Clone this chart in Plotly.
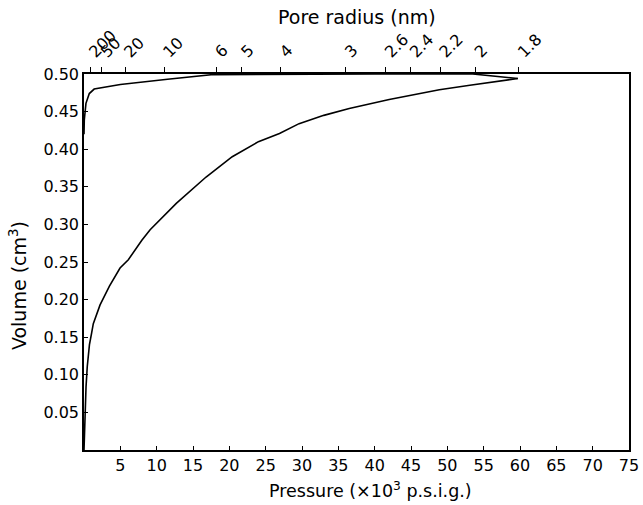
import plotly.graph_objects as go

# Intrusion branch (pressure in 10^3 psig, volume in cm^3)
intr_p = [0.0, 0.05, 0.1, 0.28, 0.45, 0.75, 1.06, 1.28, 2.21, 3.5, 4.96, 6.1, 7.96, 9.1,
          12.7, 16.8, 20.4, 24.0, 26.9, 29.6, 33.0, 36.5, 42.0, 46.2, 48.9, 53.1, 57.0, 59.7]
intr_v = [0.0, 0.02, 0.044, 0.084, 0.111, 0.14, 0.156, 0.168, 0.193, 0.218, 0.242, 0.253, 0.279, 0.293,
          0.328, 0.363, 0.39, 0.41, 0.421, 0.434, 0.445, 0.454, 0.466, 0.474, 0.479, 0.485, 0.490, 0.494]
# Extrusion branch
extr_p = [59.7, 53.5, 40.0, 25.0, 17.5, 11.5, 5.0, 1.4, 0.73, 0.27, 0.04, 0.0]
extr_v = [0.494, 0.500, 0.500, 0.500, 0.499, 0.493, 0.486, 0.480, 0.474, 0.461, 0.439, 0.42]

x_ticks = [5, 10, 15, 20, 25, 30, 35, 40, 45, 50, 55, 60, 65, 70, 75]
y_ticks = [0.05, 0.10, 0.15, 0.20, 0.25, 0.30, 0.35, 0.40, 0.45, 0.50]
pore_radii = [200, 50, 20, 10, 6, 5, 4, 3, 2.6, 2.4, 2.2, 2, 1.8]
pore_labels = ["200", "50", "20", "10", "6", "5", "4", "3", "2.6", "2.4", "2.2", "2", "1.8"]
washburn_k = 107.2   # pressure (10^3 psig) x radius (nm)
washburn_off = 0.3   # pressure offset (10^3 psi)
pore_pos = [washburn_k / r + washburn_off for r in pore_radii]

FONT = "DejaVu Sans"

fig = go.Figure()
fig.add_trace(go.Scatter(x=intr_p, y=intr_v, mode="lines",
                         line=dict(color="black", width=1.6), showlegend=False))
fig.add_trace(go.Scatter(x=extr_p, y=extr_v, mode="lines",
                         line=dict(color="black", width=1.6), showlegend=False))
# invisible trace to activate top axis
fig.add_trace(go.Scatter(x=[0, 75], y=[0, 0], xaxis="x2", mode="lines",
                         line=dict(width=0), hoverinfo="skip", showlegend=False))

fig.update_layout(
    width=643, height=505,
    margin=dict(l=84, r=14, t=74, b=55),
    paper_bgcolor="white", plot_bgcolor="white",
    font=dict(family=FONT, size=16, color="black"),
    xaxis=dict(range=[0, 75], tickvals=x_ticks, ticktext=[str(v) for v in x_ticks],
               ticks="inside", ticklen=4, tickcolor="black", showgrid=False, zeroline=False,
               showline=True, linecolor="black", linewidth=1.5, mirror=False, automargin=False),
    yaxis=dict(range=[0, 0.5], tickvals=y_ticks, ticktext=[f"{v:.2f}" for v in y_ticks],
               ticks="inside", ticklen=4, tickcolor="black", showgrid=False, zeroline=False,
               showline=True, linecolor="black", linewidth=1.5, mirror=True, automargin=False),
    xaxis2=dict(range=[0, 75], overlaying="x", side="top", tickvals=pore_pos,
                ticktext=pore_labels, tickangle=-45, ticks="outside", ticklen=5,
                tickcolor="black", showgrid=False, zeroline=False, automargin=False,
                showline=True, linecolor="black", linewidth=1.5),
    annotations=[
        dict(text="Pressure (×10<sup>3</sup> p.s.i.g.)", xref="paper", yref="paper",
             x=0.525, y=0, xanchor="center", yanchor="middle", yshift=-40,
             showarrow=False, font=dict(family=FONT, size=17.5, color="black")),
        dict(text="Pore radius (nm)", xref="paper", yref="paper",
             x=0.5, y=1, xanchor="center", yanchor="middle", yshift=57,
             showarrow=False, font=dict(family=FONT, size=19, color="black")),
        dict(text="Volume (cm<sup>3</sup>)", xref="paper", yref="paper", textangle=-90,
             x=0, y=0.436, xanchor="center", yanchor="middle", xshift=-66,
             showarrow=False, font=dict(family=FONT, size=19, color="black")),
    ],
)

fig.write_html("out.html", post_script="document.body.style.margin='0';",
               config={"displayModeBar": False})
